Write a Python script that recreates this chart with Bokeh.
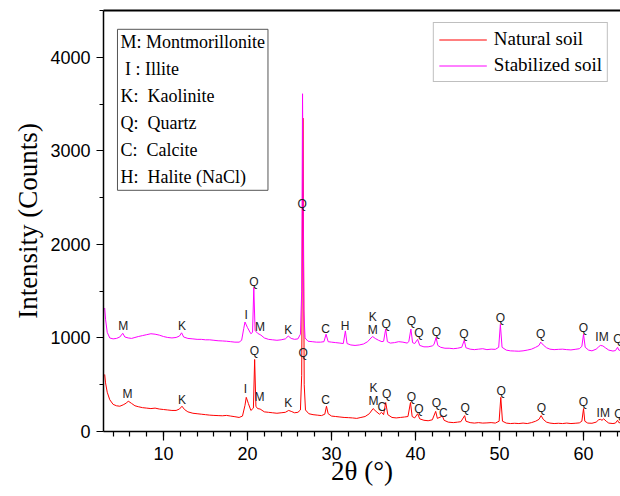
from bokeh.plotting import figure
from bokeh.models import (Range1d, SingleIntervalTicker, FixedTicker, LinearAxis,
                          Label, Legend, LegendItem)
from bokeh.core.properties import value
from bokeh.embed import file_html
from bokeh.resources import INLINE

# ---- data ----
natural_x = [3.0, 3.1, 3.3, 3.6, 4.0, 4.4, 4.8, 5.2, 5.6, 5.8, 6.2, 6.6, 7.0, 7.5, 8.0, 8.5, 9.0, 9.5,
             10.0, 10.5, 11.0, 11.5, 11.9, 12.2, 12.5, 12.9, 13.5, 14.0, 14.5, 15.0, 15.5, 16.0, 16.5,
             17.0, 17.5, 18.0, 18.5, 19.0, 19.4, 19.7, 19.85, 20.1, 20.4, 20.7, 20.85, 21.0, 21.2, 21.5,
             22.0, 22.5, 23.0, 23.5, 24.0, 24.5, 24.9, 25.2, 25.6, 26.0, 26.3, 26.45, 26.6, 26.75, 26.9,
             27.3, 27.8, 28.3, 28.8, 29.2, 29.4, 29.6, 30.0, 30.5, 31.0, 31.5, 32.0, 32.5, 33.0, 33.5,
             34.0, 34.5, 34.95, 35.3, 35.7, 35.95, 36.2, 36.45, 36.7, 37.2, 37.7, 38.2, 38.7, 39.1, 39.4,
             39.6, 39.9, 40.25, 40.5, 41.0, 41.5, 42.0, 42.4, 42.6, 43.2, 43.4, 43.9, 44.5, 45.0, 45.4,
             45.85, 46.0, 46.5, 47.0, 47.5, 48.0, 48.5, 49.0, 49.5, 49.95, 50.15, 50.35, 50.8, 51.3, 51.8,
             52.3, 52.8, 53.3, 53.8, 54.3, 54.7, 54.95, 55.2, 55.6, 56.0, 56.5, 57.0, 57.5, 58.0, 58.5,
             59.0, 59.5, 59.8, 60.0, 60.15, 60.5, 61.0, 61.5, 61.8, 62.0, 62.2, 62.4, 62.7, 63.0, 63.5,
             63.8, 64.05, 64.2, 64.6]
natural_y = [610, 520, 420, 340, 290, 275, 270, 285, 305, 325, 300, 275, 265, 255, 250, 245, 250, 240,
             235, 230, 225, 225, 240, 270, 235, 210, 195, 190, 185, 180, 175, 172, 170,
             168, 172, 165, 158, 150, 165, 280, 365, 300, 225, 250, 770, 270, 245, 240,
             210, 205, 200, 195, 200, 205, 225, 215, 200, 205, 230, 600, 3350, 500, 230,
             190, 180, 175, 170, 185, 270, 190, 165, 160, 155, 150, 148, 145, 140, 150,
             160, 190, 245, 215, 185, 205, 180, 310, 180, 150, 145, 150, 155, 160, 310,
             160, 145, 190, 135, 120, 115, 125, 215, 140, 165, 120, 100, 95, 100, 105,
             170, 110, 95, 90, 95, 90, 92, 95, 90, 110, 365, 110, 90, 85, 88,
             85, 90, 85, 95, 110, 130, 170, 130, 100, 90, 85, 88, 85, 90, 85,
             88, 92, 110, 245, 110, 90, 88, 100, 125, 130, 120, 135, 110, 90, 85,
             90, 120, 95, 90]

stabilized_x = [3.0, 3.1, 3.3, 3.6, 4.0, 4.4, 4.8, 5.15, 5.4, 5.8, 6.2, 6.6, 7.0, 7.5, 8.0, 8.5, 9.0,
                9.5, 10.0, 10.5, 11.0, 11.5, 11.9, 12.15, 12.4, 12.9, 13.5, 14.0, 14.5, 15.0, 15.5, 16.0,
                16.5, 17.0, 17.5, 18.0, 18.5, 19.0, 19.3, 19.55, 19.7, 20.0, 20.4, 20.6, 20.75, 20.9,
                21.2, 21.6, 22.0, 22.5, 23.0, 23.5, 24.0, 24.5, 24.85, 25.2, 25.6, 26.0, 26.3, 26.45,
                26.55, 26.7, 26.85, 27.2, 27.7, 28.2, 28.7, 29.1, 29.35, 29.6, 30.0, 30.5, 31.0, 31.4,
                31.65, 31.85, 32.3, 32.8, 33.3, 33.8, 34.3, 34.7, 34.9, 35.2, 35.6, 36.0, 36.2, 36.45,
                36.65, 37.0, 37.5, 38.0, 38.5, 39.0, 39.2, 39.45, 39.65, 39.9, 40.25, 40.5, 41.0, 41.5,
                42.0, 42.2, 42.45, 42.65, 43.0, 43.5, 44.0, 44.5, 45.0, 45.5, 45.8, 46.0, 46.5, 47.0,
                47.5, 48.0, 48.5, 49.0, 49.5, 49.9, 50.1, 50.3, 50.8, 51.3, 51.8, 52.3, 52.8, 53.3, 53.8,
                54.3, 54.7, 54.9, 55.2, 55.6, 56.0, 56.5, 57.0, 57.5, 58.0, 58.5, 59.0, 59.5, 59.8, 60.0,
                60.2, 60.6, 61.0, 61.5, 61.8, 62.0, 62.3, 62.6, 63.0, 63.5, 63.8, 64.05, 64.2, 64.6]
stabilized_y = [1320, 1200, 1060, 1000, 990, 995, 1010, 1050, 1010, 1000, 995, 1005, 1015, 1025, 1035, 1045, 1040,
                1030, 1015, 1005, 1000, 1005, 1020, 1055, 1010, 995, 990, 985, 985, 980, 980, 975,
                970, 968, 965, 960, 955, 955, 975, 1100, 1170, 1110, 1045, 1060, 1540, 1080,
                1050, 1030, 1000, 985, 980, 975, 980, 990, 1020, 995, 985, 990, 1040, 1500,
                3610, 1300, 1000, 965, 960, 955, 955, 960, 1040, 960, 955, 950, 945, 940,
                1075, 940, 925, 920, 925, 935, 960, 1000, 1015, 995, 975, 960, 965, 1095,
                960, 945, 950, 960, 955, 945, 960, 1095, 950, 940, 985, 920, 905, 905,
                915, 930, 1005, 920, 900, 890, 890, 885, 890, 900, 975, 895, 880, 875,
                880, 885, 875, 880, 878, 900, 1145, 900, 870, 862, 860, 858, 862, 870, 880,
                900, 920, 955, 925, 895, 880, 875, 878, 880, 875, 872, 878, 885, 910, 1040,
                900, 870, 862, 880, 905, 920, 915, 895, 870, 860, 865, 900, 870, 860]

# peak identification letters
nat_lab_x = [5.7, 12.2, 19.76, 20.83, 21.43, 24.85, 26.63, 29.3, 35.0, 35.0, 36.0, 36.55, 39.5, 40.4,
             42.5, 43.3, 45.9, 50.2, 55.0, 60.0, 62.35, 64.2]
nat_lab_y = [403, 339, 457, 856, 367, 303, 842, 332, 467, 321, 260, 403, 374, 243,
             303, 200, 249, 438, 249, 313, 196, 189]
nat_lab_t = ["M", "K", "I", "Q", "M", "K", "Q", "C", "K", "M", "C", "Q", "Q", "Q",
             "Q", "C", "Q", "Q", "Q", "Q", "IM", "Q"]

sta_lab_x = [5.2, 12.2, 19.85, 20.75, 21.5, 24.85, 26.5, 29.3, 31.6, 34.9, 34.9, 36.5, 39.5, 40.4,
             42.5, 45.75, 50.1, 54.9, 60.0, 62.2, 64.1]
sta_lab_y = [1123, 1123, 1248, 1597, 1115, 1088, 2428, 1098, 1123, 1222, 1088, 1152, 1176, 1055,
             1062, 1037, 1216, 1037, 1109, 1009, 984]
sta_lab_t = ["M", "K", "I", "Q", "M", "K", "Q", "C", "H", "K", "M", "Q", "Q", "Q",
             "Q", "Q", "Q", "Q", "Q", "IM", "Q"]

mineral_key = ["M: Montmorillonite", "\u00a0I : Illite", "K:\u00a0 Kaolinite", "Q:\u00a0 Quartz",
               "C:\u00a0 Calcite", "H:\u00a0 Halite (NaCl)"]
series_names = ["Natural soil", "Stabilized soil"]
series_colors = ["#FF0000", "#FF00FF"]
x_tick_interval = 10
y_ticks = [0, 1000, 2000, 3000, 4000]
y_minor = [500, 1500, 2500, 3500, 4500]

p = figure(width=620, height=496, output_backend="svg", toolbar_location=None,
           x_range=Range1d(2.857, 64.4), y_range=Range1d(0, 4500),
           min_border_left=103, min_border_right=0, min_border_top=10, min_border_bottom=65,
           x_axis_label="2θ (°)", y_axis_label="Intensity (Counts)")
p.outline_line_color = None
p.grid.visible = False
p.background_fill_color = "white"
p.border_fill_color = "white"

r_nat = p.line(natural_x, natural_y, line_color=series_colors[0], line_width=1)
r_sta = p.line(stabilized_x, stabilized_y, line_color=series_colors[1], line_width=1)

legend = Legend(items=[LegendItem(label=series_names[0], renderers=[r_nat]),
                       LegendItem(label=series_names[1], renderers=[r_sta])],
                location="top_right")
legend.label_text_font = "Liberation Serif"
legend.label_text_font_size = "19px"
legend.label_text_color = "black"
legend.glyph_width = 48
legend.glyph_height = 21
legend.label_height = 21
legend.spacing = 4
legend.padding = 5
legend.margin = 12
legend.label_standoff = 7
legend.border_line_color = "#808080"
legend.border_line_width = 1
legend.background_fill_color = "white"
legend.background_fill_alpha = 1.0
p.add_layout(legend)

lab_font = value("Liberation Sans")
p.text(nat_lab_x, nat_lab_y, text=nat_lab_t, text_font=lab_font, text_font_size="12px",
       text_align="center", text_baseline="middle", text_color="#222222")
p.text(sta_lab_x, sta_lab_y, text=sta_lab_t, text_font=lab_font, text_font_size="12px",
       text_align="center", text_baseline="middle", text_color="#222222")

# axes styling
xa = p.xaxis[0]
xa.ticker = SingleIntervalTicker(interval=x_tick_interval, num_minor_ticks=5)
ya = p.yaxis[0]
ya.ticker = FixedTicker(ticks=y_ticks, minor_ticks=y_minor)
for ax in (xa, ya):
    ax.axis_line_color = "black"
    ax.axis_line_width = 1.5
    ax.major_tick_line_color = "black"
    ax.minor_tick_line_color = "black"
    ax.major_tick_line_width = 1.2
    ax.minor_tick_line_width = 1.2
    ax.major_tick_in = 0
    ax.minor_tick_in = 0
    ax.major_label_text_font = "Liberation Sans"
    ax.major_label_text_font_size = "18px"
    ax.major_label_text_color = "black"
    ax.axis_label_text_font = "Liberation Serif"
    ax.axis_label_text_font_size = "27px"
    ax.axis_label_text_font_style = "normal"
    ax.axis_label_text_color = "black"
xa.major_tick_out = 9
xa.minor_tick_out = 5
xa.major_label_standoff = 6
xa.axis_label_standoff = -7
ya.major_tick_out = 7
ya.minor_tick_out = 4
ya.major_label_standoff = 6
ya.axis_label_standoff = 4

# top frame line (an axis without ticks)
top = LinearAxis(ticker=FixedTicker(ticks=[]), axis_line_color="black", axis_line_width=2,
                 major_tick_line_color=None, minor_tick_line_color=None,
                 major_label_text_font_size="0px")
p.add_layout(top, "above")

# mineral key box
key = Label(x=4.52, y=4299, text="\n".join(mineral_key), text_align="left", text_baseline="top",
            text_font="Liberation Serif", text_font_size="18px", text_line_height=1.35,
            text_color="black", border_line_color="#555555", border_line_width=1,
            background_fill_color="white", padding=3)
p.add_layout(key)

open("out.html", "w").write(file_html(p, INLINE))
